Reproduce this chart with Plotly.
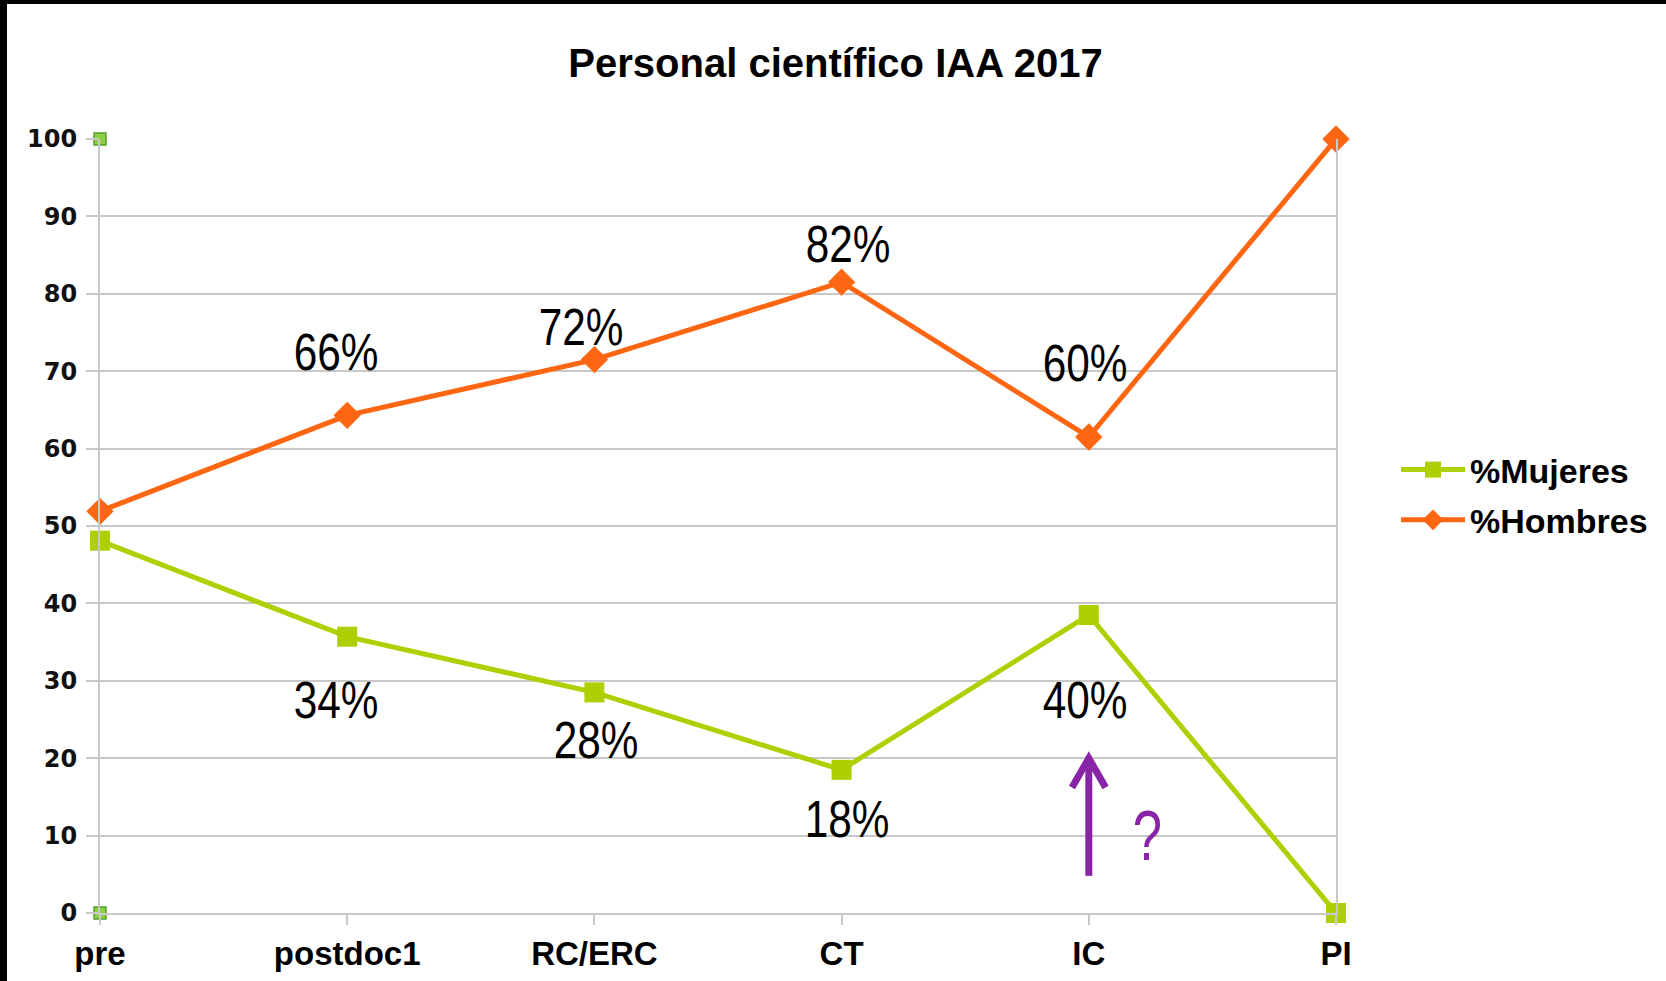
import plotly.graph_objects as go

# ---- data ----
categories = ["pre", "postdoc1", "RC/ERC", "CT", "IC", "PI"]
mujeres = [48.1, 35.7, 28.5, 18.5, 38.5, 0.0]
hombres = [51.9, 64.3, 71.5, 81.5, 61.5, 100.0]

labels_h = ["66%", "72%", "82%", "60%"]
labels_m = ["34%", "28%", "18%", "40%"]

handle_y = [100, 0]  # small green handle squares at the "pre" axis

# ---- layout constants ----
W, H = 1666, 981
L, R, T, B = 100, 330, 139, 68
PW, PH = W - L - R, H - T - B

GREEN = "#aecf00"
ORANGE = "#ff6611"
PURPLE = "#8a24a6"
GRID = "#c8c8c8"

xi = list(range(len(categories)))
idx = {c: i for i, c in enumerate(categories)}

fig = go.Figure()
fig.add_trace(go.Scatter(
    x=xi, y=mujeres, name="%Mujeres", mode="lines+markers",
    line=dict(color=GREEN, width=5),
    marker=dict(symbol="square", size=20, color=GREEN),
    cliponaxis=False, legendgroup="m",
))
fig.add_trace(go.Scatter(
    x=xi, y=hombres, name="%Hombres", mode="lines+markers",
    line=dict(color=ORANGE, width=5),
    marker=dict(symbol="diamond", size=21, color=ORANGE),
    cliponaxis=False, legendgroup="h",
))
fig.add_trace(go.Scatter(
    x=[0] * len(handle_y), y=handle_y, mode="markers", showlegend=False,
    marker=dict(symbol="square", size=12, color="#8fcf4a",
                line=dict(color="#5a9e2a", width=1.5)),
    cliponaxis=False, hoverinfo="skip",
))

# percentage labels
lab_font = dict(family="Liberation Sans, Arial, sans-serif", size=51, color="black")
h_pos = [(0.955, 72.45), (1.946, 75.6), (3.024, 86.4), (3.985, 71.0)]
m_pos = [(0.953, 27.4), (2.007, 22.3), (3.02, 12.1), (3.985, 27.4)]
for t, (x, y) in zip(labels_h, h_pos):
    fig.add_annotation(x=x, y=y, text=t, showarrow=False, font=lab_font,
                       xanchor="center", yanchor="middle")
for t, (x, y) in zip(labels_m, m_pos):
    fig.add_annotation(x=x, y=y, text=t, showarrow=False, font=lab_font,
                       xanchor="center", yanchor="middle")

# purple arrow with question mark
ax_ = idx["IC"]
arrow_tail, arrow_tip, arm_y, arm_dx = 4.8, 20.0, 16.2, 0.068
fig.add_shape(type="line", x0=ax_, x1=ax_, y0=arrow_tail, y1=arrow_tip - 0.4,
              line=dict(color=PURPLE, width=7))
fig.add_shape(type="path",
              path=f"M {ax_ - arm_dx},{arm_y} L {ax_},{arrow_tip} L {ax_ + arm_dx},{arm_y}",
              line=dict(color=PURPLE, width=7))
fig.add_annotation(x=ax_ + 0.237, y=10.0, text="?", showarrow=False,
                   font=dict(family="Liberation Sans, sans-serif", size=70, color=PURPLE),
                   xanchor="center", yanchor="middle")

# black border (top and left edges of the screenshot)
def px(xp):
    return (xp - L) / PW
def py(yp):
    return (H - B - yp) / PH
fig.add_shape(type="rect", xref="paper", yref="paper",
              x0=px(-2), x1=px(7), y0=py(H + 2), y1=py(-2),
              fillcolor="black", line=dict(width=0), layer="above")
fig.add_shape(type="rect", xref="paper", yref="paper",
              x0=px(-2), x1=px(W + 2), y0=py(4), y1=py(-2),
              fillcolor="black", line=dict(width=0), layer="above")

fig.update_layout(
    width=W, height=H,
    margin=dict(l=L, r=R, t=T, b=B, autoexpand=False),
    paper_bgcolor="white", plot_bgcolor="white",
    title=dict(text="<b>Personal científico IAA 2017</b>",
               font=dict(family="Liberation Sans, Arial, sans-serif", size=40, color="black"),
               x=835.5 / W, xanchor="center", y=1 - 63 / H, yanchor="middle"),
    showlegend=True,
    legend=dict(x=px(1396), y=py(495), xanchor="left", yanchor="middle",
                font=dict(family="Liberation Sans, Arial, sans-serif", size=34,
                          color="black", weight="bold"),
                itemwidth=64, tracegroupgap=3, bgcolor="rgba(0,0,0,0)"),
    xaxis=dict(
        range=[0, len(categories) - 1], tickmode="array", tickvals=xi,
        ticktext=[f"<b>{c}</b>" for c in categories],
        tickfont=dict(family="Liberation Sans, Arial, sans-serif", size=33, color="black"),
        showgrid=False, zeroline=False, automargin=False,
        showline=True, linecolor=GRID, linewidth=2,
        ticks="outside", ticklen=10, tickwidth=2, tickcolor=GRID,
        ticklabelstandoff=0,
    ),
    yaxis=dict(
        range=[0, 100], dtick=10, tick0=0, automargin=False,
        tickfont=dict(family="DejaVu Sans, sans-serif", size=24, color="#111111", weight="bold"),
        showgrid=True, gridcolor=GRID, gridwidth=2, zeroline=False,
        showline=True, mirror=True, linecolor=GRID, linewidth=2,
        ticks="outside", ticklen=12, tickwidth=2, tickcolor=GRID,
        ticklabelstandoff=4,
    ),
)

post = """
var de = document.documentElement, bd = document.body;
de.style.margin = '0'; de.style.padding = '0';
de.style.height = '981px'; de.style.overflow = 'hidden';
bd.style.margin = '0'; bd.style.padding = '0';
bd.style.height = '981px'; bd.style.overflow = 'hidden';
var gd = document.getElementById('{plot_id}');
gd.style.display = 'block';
gd.querySelectorAll('.annotation-text').forEach(function(el){
  var t = el.textContent;
  var f = (t.indexOf('%') >= 0) ? 0.83 : (t === '?' ? 0.75 : 1);
  if (f < 1) {
    var w = el.getComputedTextLength();
    el.setAttribute('textLength', w * f);
    el.setAttribute('lengthAdjust', 'spacingAndGlyphs');
  }
});
"""

fig.write_html("out.html", post_script=post, config={"displayModeBar": False})
